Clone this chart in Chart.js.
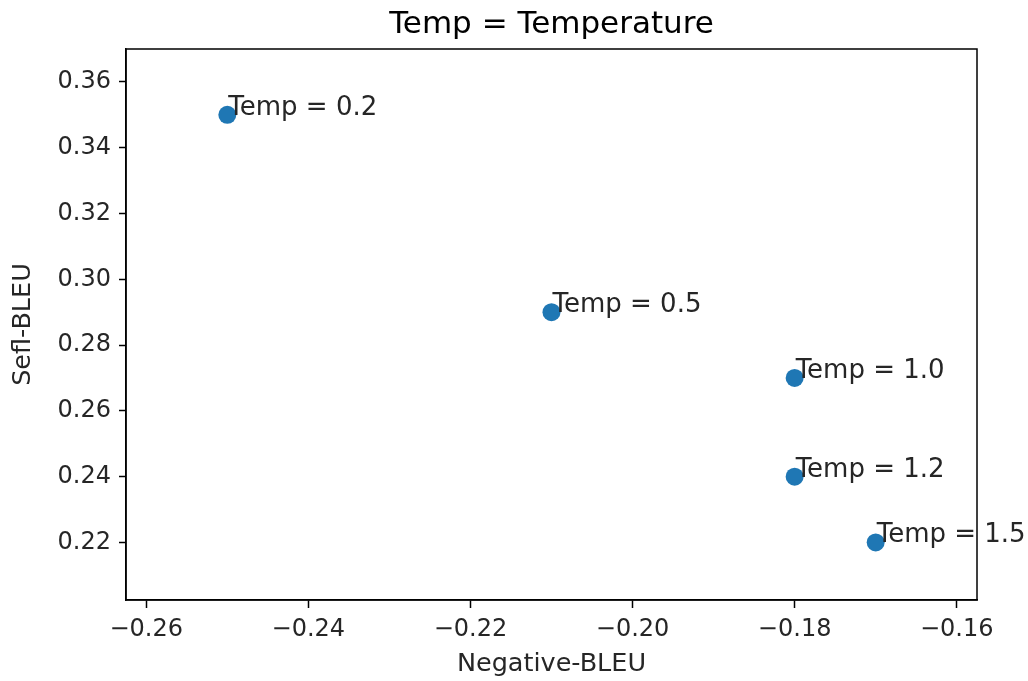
<!DOCTYPE html>
<html>
<head>
<meta charset="utf-8">
<script src="https://cdn.jsdelivr.net/npm/chart.js@4/dist/chart.umd.min.js"></script>
<style>
  html, body { margin: 0; padding: 0; background: #fff; }
  #wrap { width: 1028px; height: 681px; }
</style>
</head>
<body>
<div id="wrap"><canvas id="chart" width="1028" height="681"></canvas></div>
<script>
// values
const tempLabels = ['Temp = 0.2', 'Temp = 0.5', 'Temp = 1.0', 'Temp = 1.2', 'Temp = 1.5'];
const negativeBleu = [-0.25, -0.21, -0.18, -0.18, -0.17];
const selfBleu = [0.35, 0.29, 0.27, 0.24, 0.22];
const chartTitle = 'Temp = Temperature';

const FONT = "'DejaVu Sans', sans-serif";
const fmt = v => v.toFixed(2).replace('-', '\u2212');

// title over the plot area, point labels (not clipped) and the box round the axes
const framePlugin = {
    id: 'frame',
    afterDatasetsDraw(chart) {
        const ctx = chart.ctx;
        const a = chart.chartArea;
        const meta = chart.getDatasetMeta(0);
        ctx.save();
        ctx.font = '26px ' + FONT;
        ctx.fillStyle = '#262626';
        ctx.textAlign = 'left';
        ctx.textBaseline = 'alphabetic';
        meta.data.forEach((pt, i) => {
            ctx.fillText(tempLabels[i], pt.x + 1, pt.y);
        });
        ctx.strokeStyle = '#000';
        ctx.lineWidth = 1.5;
        ctx.strokeRect(a.left, a.top, a.right - a.left, a.bottom - a.top);

        ctx.font = '31px ' + FONT;
        ctx.fillStyle = '#000';
        ctx.textAlign = 'center';
        ctx.fillText(chartTitle, (a.left + a.right) / 2, 33);
        ctx.restore();
    }
};

new Chart(document.getElementById('chart'), {
    type: 'scatter',
    data: {
        datasets: [{
            data: negativeBleu.map((x, i) => ({ x: x, y: selfBleu[i] })),
            backgroundColor: '#1f77b4',
            borderWidth: 0,
            pointRadius: 9,
            pointHoverRadius: 9
        }]
    },
    options: {
        responsive: false,
        animation: false,
        layout: { padding: { left: 0, right: 51, top: 49, bottom: 0 } },
        plugins: {
            legend: { display: false },
            tooltip: { enabled: false },
            title: { display: false }
        },
        scales: {
            x: {
                type: 'linear',
                min: -0.2625,
                max: -0.1575,
                afterFit: s => { s.height = 81; },
                border: { display: true, color: '#000', width: 1.5 },
                grid: { drawOnChartArea: false, drawTicks: true, tickLength: 8, color: '#000', tickWidth: 1.5 },
                ticks: {
                    stepSize: 0.02,
                    includeBounds: false,
                    color: '#262626',
                    padding: 7,
                    font: { family: FONT, size: 24 },
                    maxRotation: 0,
                    callback: v => fmt(v)
                },
                title: {
                    display: true,
                    text: 'Negative-BLEU',
                    color: '#262626',
                    font: { family: FONT, size: 25.5 },
                    padding: { top: 0, bottom: 1 }
                }
            },
            y: {
                type: 'linear',
                min: 0.2025,
                max: 0.37,
                afterFit: s => { s.width = 126; },
                border: { display: true, color: '#000', width: 1.5 },
                grid: { drawOnChartArea: false, drawTicks: true, tickLength: 7, color: '#000', tickWidth: 1.5 },
                ticks: {
                    stepSize: 0.02,
                    includeBounds: false,
                    color: '#262626',
                    padding: 8,
                    font: { family: FONT, size: 24 },
                    callback: v => fmt(v)
                },
                title: {
                    display: true,
                    text: 'Sefl-BLEU',
                    color: '#262626',
                    font: { family: FONT, size: 25.5 },
                    padding: { top: 8, bottom: 0 }
                }
            }
        }
    },
    plugins: [framePlugin]
});
</script>
</body>
</html>
